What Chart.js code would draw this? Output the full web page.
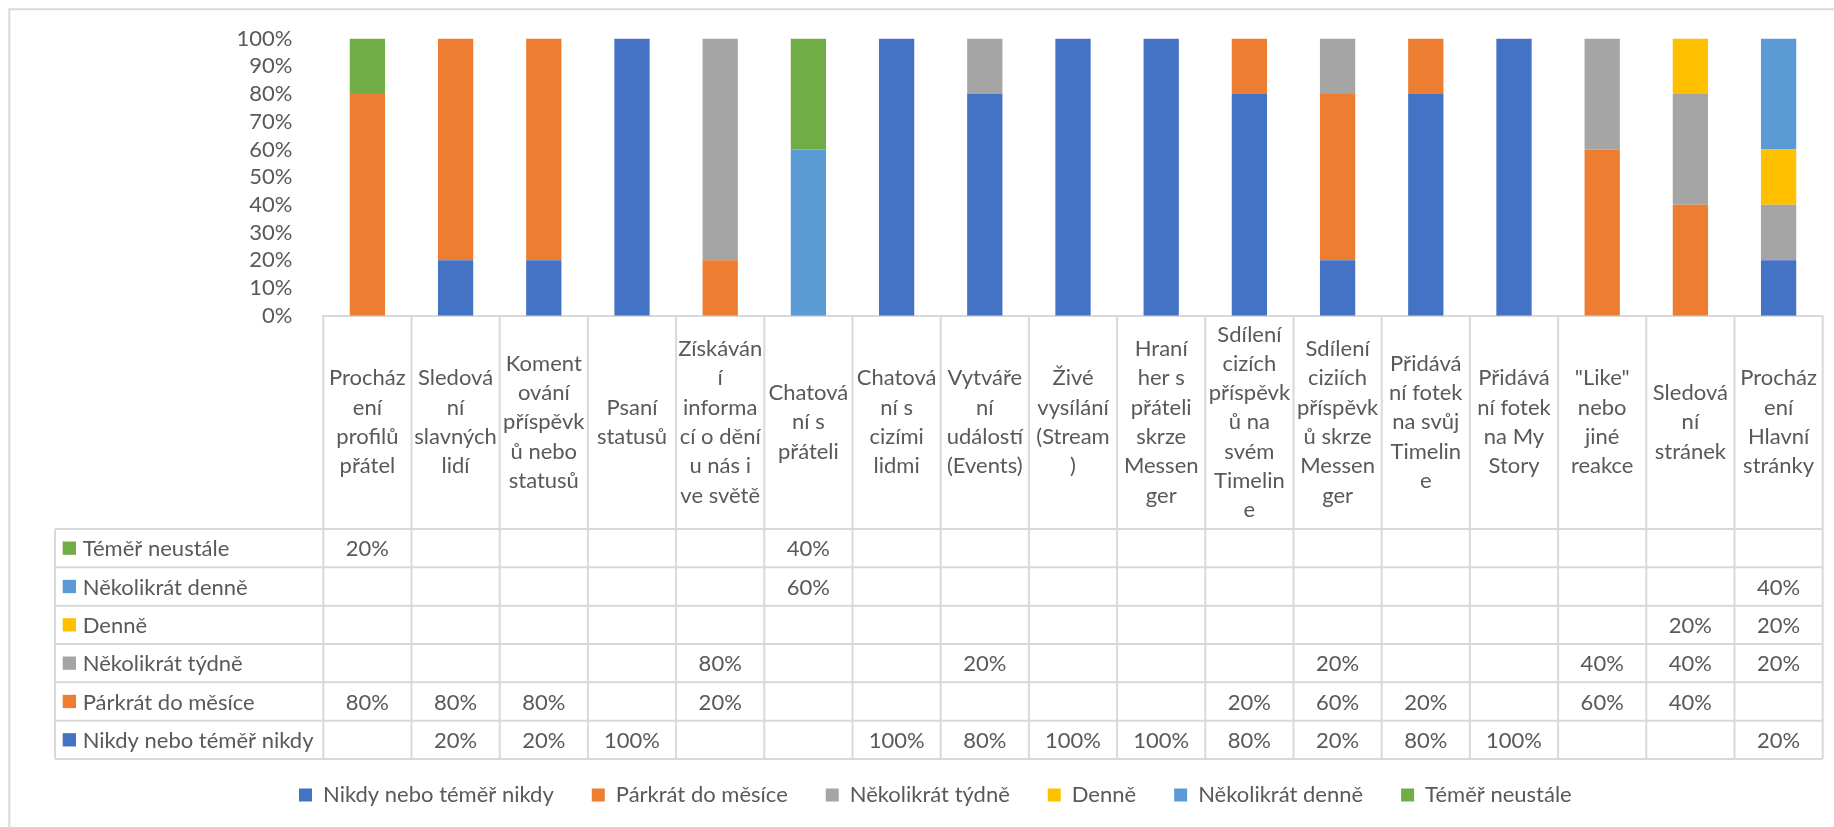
<!DOCTYPE html>
<html>
<head>
<meta charset="utf-8">
<script src="https://cdn.jsdelivr.net/npm/chart.js"></script>
<style>
html,body{margin:0;padding:0;background:#fff;overflow:hidden}
#wrap{width:1834px;height:827px;position:relative}
canvas{display:block}
</style>
</head>
<body>
<div id="wrap"><canvas id="c" width="1834" height="827"></canvas></div>
<script>
// ---- data ----
const categories = [
  ["Procház","ení","profilů","přátel"],
  ["Sledová","ní","slavných","lidí"],
  ["Koment","ování","příspěvk","ů nebo","statusů"],
  ["Psaní","statusů"],
  ["Získáván","í","informa","cí o dění","u nás i","ve světě"],
  ["Chatová","ní s","přáteli"],
  ["Chatová","ní s","cizími","lidmi"],
  ["Vytváře","ní","událostí","(Events)"],
  ["Živé","vysílání","(Stream",")"],
  ["Hraní","her s","přáteli","skrze","Messen","ger"],
  ["Sdílení","cizích","příspěvk","ů na","svém","Timelin","e"],
  ["Sdílení","ciziích","příspěvk","ů skrze","Messen","ger"],
  ["Přidává","ní fotek","na svůj","Timelin","e"],
  ["Přidává","ní fotek","na My","Story"],
  ["\"Like\"","nebo","jiné","reakce"],
  ["Sledová","ní","stránek"],
  ["Procház","ení","Hlavní","stránky"]
];
const seriesNames = ["Nikdy nebo téměř nikdy","Párkrát do měsíce","Několikrát týdně","Denně","Několikrát denně","Téměř neustále"];
const nikdy          = [null,20,20,100,null,null,100,80,100,100,80,20,80,100,null,null,20];
const parkrat        = [80,80,80,null,20,null,null,null,null,null,20,60,20,null,60,40,null];
const tydne          = [null,null,null,null,80,null,null,20,null,null,null,20,null,null,40,40,20];
const denne          = [null,null,null,null,null,null,null,null,null,null,null,null,null,null,null,20,20];
const nekolikDenne   = [null,null,null,null,null,60,null,null,null,null,null,null,null,null,null,null,40];
const neustale       = [20,null,null,null,null,40,null,null,null,null,null,null,null,null,null,null,null];
const yTickValues    = [0,10,20,30,40,50,60,70,80,90,100];

const seriesValues = [nikdy, parkrat, tydne, denne, nekolikDenne, neustale];
const colors = ["#4472C4","#ED7D31","#A5A5A5","#FFC000","#5B9BD5","#70AD47"];

// ---- layout constants ----
const FONT_FAMILY = 'Lato, "Noto Sans", sans-serif';
const FONT_SIZE = 22;
const TEXT_COLOR = '#595959';
const LINE_COLOR = '#d9d9d9';
const HEADER_H = 213.3;
const ROW_H = 38.33;
const LINE_H = 29.3;
const TABLE_LEFT = 55;
const PAD = {left: 48, right: 11.3, top: 38.6, bottom: 11};
const PLOT_LEFT = 323.3;
const XAXIS_H = 430.3;

const tablePlugin = {
  id: 'dataTable',
  afterDraw(chart) {
    const ctx = chart.ctx;
    const xs = chart.scales.x;
    const area = chart.chartArea;
    const n = categories.length;
    const w = (area.right - area.left) / n;
    const headTop = area.bottom;
    const headBot = headTop + HEADER_H;
    const rows = chart.data.datasets.slice().reverse();
    const tableBot = headBot + rows.length * ROW_H;
    ctx.save();
    ctx.strokeStyle = LINE_COLOR;
    ctx.lineWidth = 2;
    ctx.beginPath();
    // outer chart border (left/top visible)
    ctx.moveTo(9.3, 900); ctx.lineTo(9.3, 9.3); ctx.lineTo(1900, 9.3);
    for (let k = 0; k <= n; k++) {
      const x = area.left + k * w;
      ctx.moveTo(x, headTop); ctx.lineTo(x, tableBot);
    }
    ctx.moveTo(TABLE_LEFT, headBot); ctx.lineTo(TABLE_LEFT, tableBot);
    for (let r = 0; r <= rows.length; r++) {
      const y = headBot + r * ROW_H;
      ctx.moveTo(TABLE_LEFT, y); ctx.lineTo(area.right, y);
    }
    ctx.stroke();

    ctx.fillStyle = TEXT_COLOR;
    ctx.font = FONT_SIZE + 'px ' + FONT_FAMILY;
    ctx.textAlign = 'center';
    ctx.textBaseline = 'middle';
    const cy = (headTop + headBot) / 2;
    categories.forEach((lines, i) => {
      const cx = xs.getPixelForValue(i);
      lines.forEach((t, j) => {
        ctx.fillText(t, cx, cy + (j - (lines.length - 1) / 2) * LINE_H);
      });
    });

    rows.forEach((ds, r) => {
      const y = headBot + r * ROW_H + ROW_H / 2;
      ctx.fillStyle = ds.backgroundColor;
      ctx.fillRect(62.7, y - 6.65, 13.3, 13.3);
      ctx.fillStyle = TEXT_COLOR;
      ctx.textAlign = 'left';
      ctx.fillText(ds.label, 82.7, y + 1);
      ctx.textAlign = 'center';
      ds.data.forEach((v, i) => {
        if (v === null || v === undefined) return;
        ctx.fillText(v + '%', xs.getPixelForValue(i), y + 1);
      });
    });
    ctx.restore();
  }
};

new Chart(document.getElementById('c'), {
  type: 'bar',
  data: {
    labels: categories.map(c => c.join(' ')),
    datasets: seriesNames.map((name, i) => ({
      label: name,
      data: seriesValues[i],
      backgroundColor: colors[i],
      borderWidth: 0,
      barPercentage: 0.4,
      categoryPercentage: 1.0
    }))
  },
  options: {
    responsive: false,
    animation: false,
    devicePixelRatio: 1,
    layout: {padding: PAD},
    plugins: {
      tooltip: {enabled: false},
      legend: {
        position: 'bottom',
        labels: {
          boxWidth: 13,
          boxHeight: 13,
          padding: 38,
          color: TEXT_COLOR,
          font: {family: FONT_FAMILY, size: FONT_SIZE}
        }
      }
    },
    scales: {
      x: {
        stacked: true,
        grid: {display: false},
        border: {display: true, color: LINE_COLOR, width: 2},
        ticks: {display: false},
        afterFit(s) { s.height = XAXIS_H; }
      },
      y: {
        stacked: true,
        min: 0,
        max: 100,
        grid: {display: false},
        border: {display: false},
        afterBuildTicks(s) { s.ticks = yTickValues.map(v => ({value: v})); },
        ticks: {
          autoSkip: false,
          stepSize: 10,
          padding: 23,
          color: TEXT_COLOR,
          font: {family: FONT_FAMILY, size: FONT_SIZE},
          callback: v => v + '%'
        },
        afterFit(s) { s.width = PLOT_LEFT - PAD.left; }
      }
    }
  },
  plugins: [tablePlugin]
});
</script>
</body>
</html>
